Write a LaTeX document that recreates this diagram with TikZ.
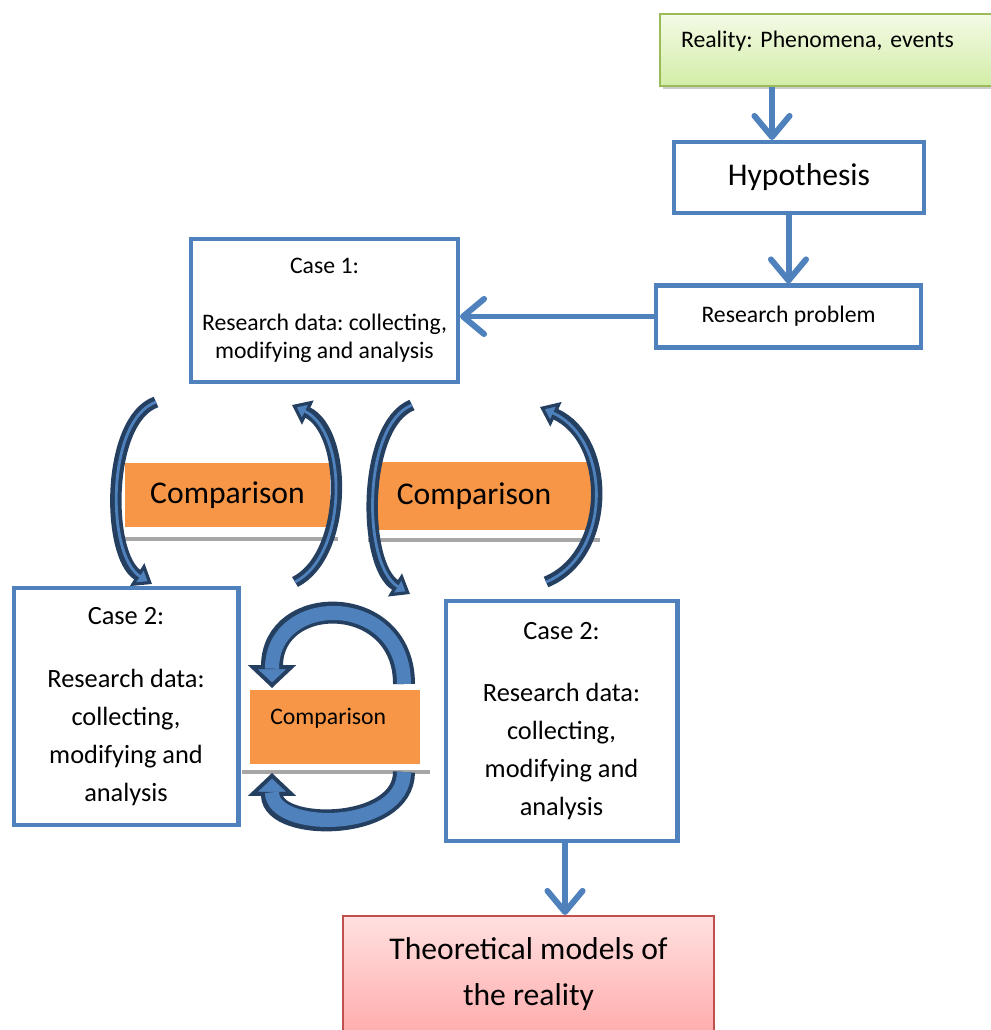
\documentclass[tikz,border=0pt]{standalone}
\usepackage{fontspec}
\setmainfont{Carlito}
\usepackage{tikz}
\usetikzlibrary{arrows.meta, positioning, shadows}

\definecolor{boxblue}{HTML}{4F81BD}
\definecolor{arcnavy}{HTML}{243F60}
\definecolor{cmporange}{HTML}{F79646}
\definecolor{realgreen}{HTML}{9BBB59}
\definecolor{realtop}{HTML}{F3FAE6}
\definecolor{realbot}{HTML}{D3EDA6}
\definecolor{theored}{HTML}{C0504D}
\definecolor{theotop}{HTML}{FFE0E0}
\definecolor{theobot}{HTML}{FFADAD}

\newcommand{\normtxt}{\fontsize{13.5}{16}\selectfont}
\newcommand{\casetxt}{\fontsize{15}{21.6}\selectfont}
\newcommand{\largetxt}{\fontsize{18}{26}\selectfont}
\frenchspacing

\tikzstyle{bluebox} = [rectangle, draw=boxblue, line width=2.3pt, fill=white, align=center, inner sep=0pt]
\tikzstyle{realbox} = [rectangle, draw=realgreen, line width=1.2pt, top color=realtop, bottom color=realbot, drop shadow={shadow xshift=1.5pt, shadow yshift=-1.5pt, opacity=0.4}, align=left, inner xsep=0.42cm, inner ysep=0pt]
\tikzstyle{theobox} = [rectangle, draw=theored, line width=1.2pt, top color=theotop, bottom color=theobot, align=center, inner sep=0pt]
\tikzstyle{cmpbar} = [rectangle, fill=cmporange, inner sep=0pt]
\tikzstyle{barshadow} = [fill=black!35]
\tikzstyle{flow} = [draw=boxblue, line width=3.4pt, -{Straight Barb[length=12pt,width=20pt,round]}]
\tikzstyle{bendthin} = [draw=arcnavy, line width=6.5pt, -{Triangle[length=10pt,width=15pt,fill=boxblue,line width=1.8pt]}, postaction={draw=boxblue, line width=1.6pt, -, shorten >=8pt}]
\tikzstyle{bendthick} = [draw=arcnavy, line width=12.5pt, -{Triangle[length=13pt,width=27pt,fill=boxblue,line width=2.2pt]}, postaction={draw=boxblue, line width=8pt, -, shorten >=11pt}]

\begin{document}
\begin{tikzpicture}[x=0.02cm, y=-0.02cm]
    \useasboundingbox (0,0) rectangle (990,1030);

    % Nodes
    \node [realbox, anchor=north west, text width=6.2cm, text height=0.66cm, text depth=0.78cm, font=\normtxt] (reality) at (659,13) {Reality: Phenomena, events};
    \node [bluebox, minimum width=5.0cm, minimum height=1.42cm, font=\largetxt] (hypo) at (799,177.5) {Hypothesis};
    \node [bluebox, minimum width=5.3cm, minimum height=1.24cm, font=\normtxt] (problem) at (788.5,316.5) {Research problem};
    \node [bluebox, minimum width=5.34cm, minimum height=2.86cm, font=\normtxt] (case1) at (324.5,310.5) {Case 1:\\[16pt] Research data: collecting,\\ modifying and analysis};
    \node [bluebox, minimum width=4.5cm, minimum height=4.74cm, font=\casetxt] (case2a) at (126,706.5) {Case 2:\\[14pt] Research data:\\ collecting,\\ modifying and\\ analysis};
    \node [bluebox, minimum width=4.64cm, minimum height=4.8cm, font=\casetxt] (case2b) at (561.5,721) {Case 2:\\[14pt] Research data:\\ collecting,\\ modifying and\\ analysis};
    \node [theobox, minimum width=7.42cm, minimum height=2.32cm, font=\largetxt] (theory) at (528.5,974) {Theoretical models of\\ the reality};

    % Comparison bars
    \fill [barshadow] (118,537) rectangle (338,541);
    \node [cmpbar, minimum width=4.1cm, minimum height=1.28cm, font=\largetxt] (cmp1) at (227.5,495) {Comparison};
    \fill [barshadow] (368,538) rectangle (600,542);
    \node [cmpbar, minimum width=4.32cm, minimum height=1.36cm, font=\largetxt] (cmp2) at (484,496) {\hspace*{-0.4cm}Comparison};
    \fill [barshadow] (242,770) rectangle (430,774);
    \node [cmpbar, anchor=north west, text width=2.6cm, inner xsep=0.4cm, text height=0.68cm, text depth=0.8cm, align=left, font=\normtxt] (cmp3) at (250,690) {Comparison};

    % Edges
    \path [flow] ([xshift=-0.54cm]hypo.north |- reality.south) -- ([xshift=-0.54cm]hypo.north);
    \path [flow] (hypo.south -| problem.north) -- (problem.north);
    \path [flow] (problem.west) -- (case1.east |- problem.west);
    \path [flow] ([xshift=0.07cm]case2b.south) -- ([xshift=0.07cm]case2b.south |- theory.north);

    % Curved arrows
    \coordinate (a1s) at (156,402);
    \coordinate (a1e) at (152,584);
    \coordinate (a2s) at (295,582);
    \coordinate (a2e) at (292,405);
    \coordinate (a3s) at (412,405);
    \coordinate (a3e) at (410,594);
    \coordinate (a4s) at (546,582);
    \coordinate (a4e) at (540,407);
    \path [bendthin] (a1s) .. controls (106,420) and (106,555) .. (a1e);
    \path [bendthin] (a2s) .. controls (348,555) and (348,432) .. (a2e);
    \path [bendthin] (a3s) .. controls (362,425) and (362,565) .. (a3e);
    \path [bendthin] (a4s) .. controls (612,555) and (612,440) .. (a4e);

    \coordinate (l1s) at (404,684);
    \coordinate (l1e) at (272,688);
    \coordinate (l2s) at (404,772);
    \coordinate (l2e) at (272,773);
    \path [bendthick] (l1s) .. controls (404,592) and (272,592) .. (l1e);
    \path [bendthick] (l2s) .. controls (404,832) and (272,832) .. (l2e);
\end{tikzpicture}
\end{document}
